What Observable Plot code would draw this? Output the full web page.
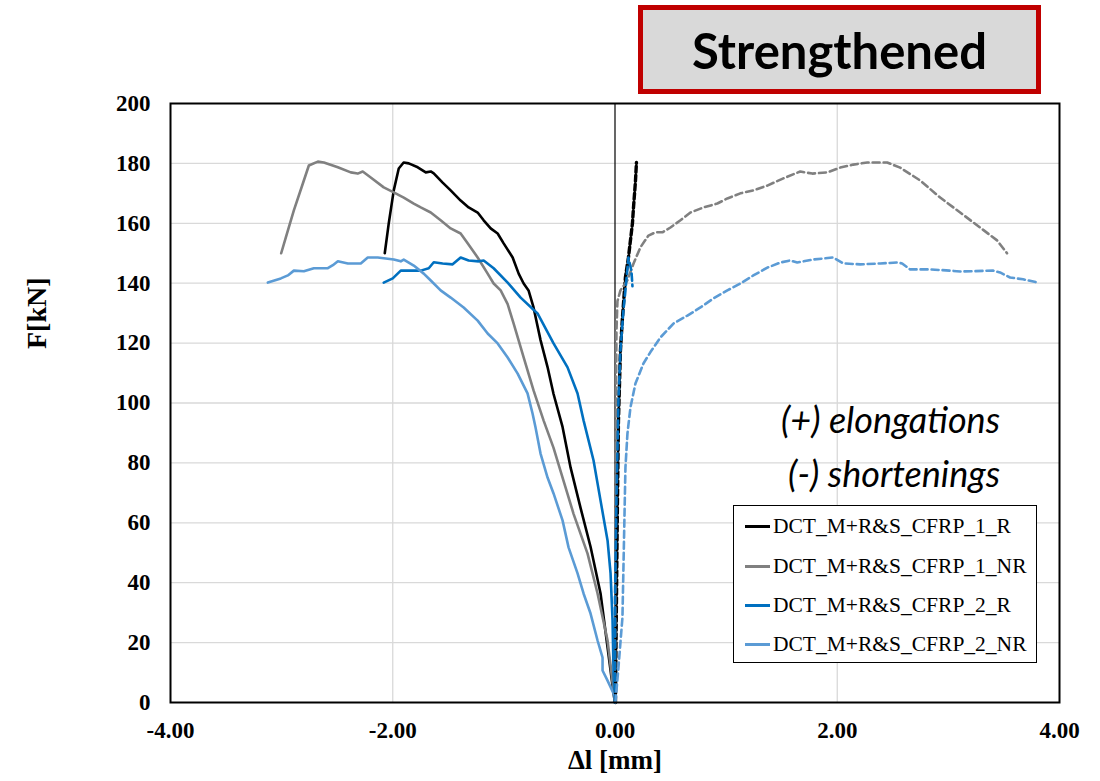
<!DOCTYPE html>
<html>
<head>
<meta charset="utf-8">
<script src="https://cdn.jsdelivr.net/npm/d3@7"></script>
<script src="https://cdn.jsdelivr.net/npm/@observablehq/plot@0.6"></script>
<style>
  html, body { margin: 0; padding: 0; background: #ffffff; }
  #wrap { position: relative; width: 1100px; height: 781px; overflow: hidden; }
  #title {
    position: absolute; left: 638px; top: 5px; width: 393px; height: 79px;
    border: 5px solid #c00000; background: #d9d9d9;
    font-family: Lato, "Open Sans", sans-serif; font-weight: bold; font-size: 49px;
    display: flex; align-items: center; justify-content: center; color: #000;
  }
  #legend {
    position: absolute; left: 733px; top: 505px; width: 302px; height: 156px;
    border: 1.5px solid #000; background: #fff;
    font-family: "Liberation Serif", "Times New Roman", serif; font-size: 21.5px; color: #000;
  }
  .item { position: absolute; left: 11px; height: 24px; display: flex; align-items: center; white-space: nowrap; }
  .swatch { width: 25px; height: 3px; margin-right: 3px; }
</style>
</head>
<body>
<div id="wrap">
  <div id="chart"></div>
  <div id="title">Strengthened</div>
  <div id="legend"></div>
</div>
<script>
// ---- Data (Δl [mm], F [kN]) ----
const seriesNames = ["DCT_M+R&S_CFRP_1_R", "DCT_M+R&S_CFRP_1_NR", "DCT_M+R&S_CFRP_2_R", "DCT_M+R&S_CFRP_2_NR"];
const seriesColors = ["#000000", "#808080", "#0070c0", "#5b9bd5"];

// shortenings (solid)
const cfrp1R_short = [[-2.072,150],[-2.036,160],[-1.991,171],[-1.946,178.3],[-1.902,180.3],[-1.856,180],[-1.775,178.7],[-1.703,177],[-1.658,177.3],[-1.631,176.7],[-1.551,173.6],[-1.479,171],[-1.389,167.6],[-1.317,165.3],[-1.236,163.6],[-1.182,161],[-1.119,158.3],[-1.056,156.6],[-1.002,153.3],[-0.921,148.6],[-0.867,143.2],[-0.822,139.9],[-0.778,137.6],[-0.733,131.9],[-0.67,121],[-0.607,112],[-0.553,103],[-0.472,92],[-0.4,78.5],[-0.31,65],[-0.22,52],[-0.13,36.4],[-0.013,3],[0,0]];
const cfrp1NR_short = [[-3.004,150],[-2.962,155.3],[-2.89,164.3],[-2.809,173.3],[-2.755,179.3],[-2.674,180.6],[-2.62,180.3],[-2.494,178.7],[-2.378,177],[-2.315,176.6],[-2.27,177.3],[-2.198,175.3],[-2.081,172],[-1.991,170.3],[-1.901,168.6],[-1.811,166.6],[-1.748,165.3],[-1.658,163.6],[-1.569,161],[-1.479,158.3],[-1.389,156.6],[-1.326,153.3],[-1.236,148.6],[-1.146,143.2],[-1.092,139.9],[-1.029,137.6],[-0.966,133],[-0.912,126.5],[-0.822,115.2],[-0.733,104.2],[-0.643,94.2],[-0.553,85],[-0.463,74],[-0.373,63],[-0.247,49.7],[-0.157,36.4],[-0.067,20.7],[-0.013,4],[0,0]];
const cfrp2R_short = [[-2.081,140.2],[-2.0,141.6],[-1.928,144.2],[-1.838,144.2],[-1.748,144.2],[-1.676,145],[-1.631,147],[-1.551,146.6],[-1.461,146.3],[-1.389,148.6],[-1.317,147.6],[-1.227,147.3],[-1.182,147.6],[-1.092,145],[-0.966,140.2],[-0.849,135.2],[-0.697,129.9],[-0.553,119.9],[-0.427,111.9],[-0.337,103.2],[-0.283,94.2],[-0.193,80.8],[-0.13,67.4],[-0.067,54.1],[-0.04,43.1],[-0.022,27.4],[-0.013,10],[-0.004,0]];
const cfrp2NR_short = [[-3.124,140.2],[-3.007,141.6],[-2.944,142.6],[-2.89,144.2],[-2.8,144],[-2.71,145],[-2.584,145],[-2.539,146],[-2.494,147.3],[-2.404,146.6],[-2.288,146.6],[-2.225,148.6],[-2.135,148.6],[-1.991,147.9],[-1.928,147.3],[-1.901,147.9],[-1.811,145.9],[-1.721,143.2],[-1.658,140.9],[-1.569,137.6],[-1.479,135.2],[-1.362,131.9],[-1.236,127.5],[-1.146,123.2],[-1.056,119.9],[-0.966,115.2],[-0.876,109.8],[-0.787,103.2],[-0.742,96.5],[-0.715,91.8],[-0.67,83.1],[-0.607,75.1],[-0.553,69.8],[-0.472,60.8],[-0.418,51.8],[-0.337,43.1],[-0.283,36.4],[-0.22,29.7],[-0.157,20.7],[-0.112,15],[-0.112,10.7],[-0.067,7.3],[-0.013,3],[0,0]];

// elongations (dashed)
const cfrp1R_elong = [[0.004,0],[0.013,34],[0.022,67],[0.031,94],[0.049,117.5],[0.067,128.5],[0.094,142],[0.121,148.6],[0.157,160],[0.166,165],[0.184,174],[0.193,180.3]];
const cfrp1NR_elong = [[0,0],[0.004,67],[0.013,124],[0.022,134],[0.049,137.6],[0.112,141],[0.166,146.5],[0.229,152],[0.301,155.9],[0.364,157],[0.427,157],[0.499,158.6],[0.589,161],[0.679,163.6],[0.796,165.3],[0.921,166.6],[1.011,168.3],[1.128,170],[1.245,171],[1.371,172.6],[1.515,175],[1.667,177.3],[1.775,176.6],[1.91,177],[2.027,178.6],[2.144,179.6],[2.27,180.3],[2.449,180.3],[2.566,178.6],[2.746,174.3],[2.926,168.6],[3.106,163.6],[3.285,158.6],[3.438,154.3],[3.528,150]];
const cfrp2R_elong = [[0,0],[0.0,34],[0.013,67.4],[0.031,100.8],[0.049,117.5],[0.076,131],[0.094,137.6],[0.121,148.6],[0.148,144],[0.157,139]];
const cfrp2NR_elong = [[0.004,0],[0.031,11.7],[0.067,28.4],[0.076,45],[0.085,61.8],[0.094,78.5],[0.112,89.8],[0.139,98.5],[0.184,106.5],[0.256,113.2],[0.319,117],[0.409,121.9],[0.526,126.5],[0.652,129.2],[0.769,131.9],[0.885,134.9],[1.011,137.6],[1.128,139.9],[1.245,142.6],[1.371,145.2],[1.488,146.9],[1.577,147.6],[1.64,146.9],[1.784,147.9],[1.964,148.6],[2.054,146.6],[2.207,146.3],[2.387,146.6],[2.539,146.9],[2.584,146.6],[2.656,144.6],[2.836,144.6],[3.016,144.2],[3.106,143.9],[3.402,144.2],[3.465,143.6],[3.555,141.9],[3.672,141.3],[3.807,140.2]];

const xTicks = [-4, -2, 0, 2, 4];
const yTicks = [0, 20, 40, 60, 80, 100, 120, 140, 160, 180, 200];
const notes = [{x: 3.465, y: 93.8, text: "(+) elongations"}, {x: 3.465, y: 75.8, text: "(-) shortenings"}];

const shortSets = [cfrp1R_short, cfrp1NR_short, cfrp2R_short, cfrp2NR_short];
const elongSets = [cfrp1R_elong, cfrp1NR_elong, cfrp2R_elong, cfrp2NR_elong];

const lineMarks = [];
shortSets.forEach((d, i) => lineMarks.push(Plot.line(d, {x: p => p[0], y: p => p[1], stroke: seriesColors[i], strokeWidth: 2.6})));
elongSets.forEach((d, i) => lineMarks.push(Plot.line(d, {x: p => p[0], y: p => p[1], stroke: seriesColors[i],
  strokeWidth: i === 0 ? 3.4 : 2.6, strokeDasharray: i === 0 ? "6,3" : "7,4"})));

const chart = Plot.plot({
  width: 1100,
  height: 781,
  marginLeft: 170,
  marginRight: 41,
  marginTop: 103,
  marginBottom: 79,
  style: {fontFamily: "'Liberation Serif', 'Times New Roman', serif", fontSize: "23px", fontWeight: "bold", color: "#000", background: "#fff"},
  x: {domain: [-4, 4]},
  y: {domain: [0, 200]},
  marks: [
    Plot.gridY(yTicks.filter(v => v > 0 && v < 200), {stroke: "#d9d9d9", strokeOpacity: 1, strokeWidth: 1.3}),
    Plot.gridX(xTicks.filter(v => v !== 0 && Math.abs(v) < 4), {stroke: "#d9d9d9", strokeOpacity: 1, strokeWidth: 1.3}),
    Plot.ruleX([0], {stroke: "#000", strokeWidth: 1.2}),
    Plot.axisX({ticks: xTicks, tickSize: 0, tickPadding: 19, tickFormat: d => d.toFixed(2), label: null, fontSize: 23}),
    Plot.axisY({ticks: yTicks, tickSize: 0, tickPadding: 20, label: null, fontSize: 23}),
    ...lineMarks,
    Plot.frame({stroke: "#000", strokeWidth: 2}),
    Plot.text(notes, {x: "x", y: "y", text: "text", textAnchor: "end", lineAnchor: "middle", fontFamily: "Lato, 'Open Sans', sans-serif", fontStyle: "italic", fontWeight: "normal", fontSize: 36, fill: "#000"}),
    Plot.text(["F[kN]"], {frameAnchor: "left", dx: -133, dy: -54, rotate: -90, fontSize: 28, fill: "#000"}),
    Plot.text(["\u0394l [mm]"], {x: 0, frameAnchor: "bottom", dy: 66, fontSize: 27, fill: "#000"})
  ]
});
document.getElementById("chart").appendChild(chart);

// legend (solid series only, as in the reference)
const legend = document.getElementById("legend");
const tops = [8, 48, 87, 126];
seriesNames.forEach((name, i) => {
  const item = document.createElement("div");
  item.className = "item";
  item.style.top = tops[i] + "px";
  const sw = document.createElement("div");
  sw.className = "swatch";
  sw.style.background = seriesColors[i];
  const label = document.createElement("span");
  label.textContent = name;
  item.appendChild(sw);
  item.appendChild(label);
  legend.appendChild(item);
});
</script>
</body>
</html>
